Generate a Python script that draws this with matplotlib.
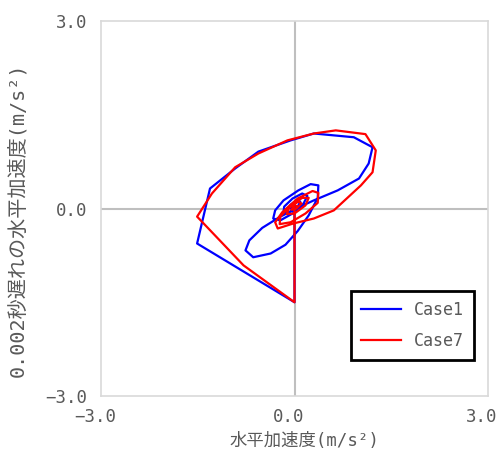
import matplotlib
matplotlib.use("Agg")
import matplotlib.pyplot as plt
import matplotlib.transforms as mtransforms

plt.rcParams['font.family'] = ['DejaVu Sans Mono', 'Noto Sans CJK JP']

# Case1 trajectory (acc, acc delayed 0.002 s)
case1_x = [0.00, 0.00, -1.51, -1.31, -0.92, -0.56, -0.06, 0.30, 0.92, 1.21, 1.15, 1.00,
           0.67, 0.30, 0.09, -0.22, -0.50, -0.70, -0.76, -0.64, -0.37, -0.14, 0.05, 0.22,
           0.36, 0.37, 0.25, 0.06, -0.17, -0.30, -0.33, -0.22, -0.03, 0.14, 0.20, 0.12,
           -0.03, -0.16, -0.17, -0.08, 0.05, 0.09, 0.03, -0.06, -0.06, 0.02, 0.00]
case1_y = [0.00, -1.50, -0.56, 0.32, 0.64, 0.91, 1.09, 1.20, 1.14, 0.98, 0.72, 0.48,
           0.29, 0.13, 0.03, -0.13, -0.31, -0.51, -0.67, -0.78, -0.72, -0.58, -0.36, -0.11,
           0.17, 0.37, 0.39, 0.29, 0.13, -0.03, -0.16, -0.19, -0.08, 0.08, 0.20, 0.24,
           0.16, 0.03, -0.06, -0.06, 0.03, 0.11, 0.13, 0.06, 0.00, 0.03, 0.00]

# Case7 trajectory
case7_x = [0.00, 0.00, -0.79, -1.51, -1.28, -0.92, -0.56, -0.11, 0.30, 0.64, 1.10, 1.26,
           1.21, 1.03, 0.61, 0.30, -0.02, -0.26, -0.30, -0.19, 0.05, 0.28, 0.37, 0.36,
           0.17, -0.06, -0.23, -0.22, -0.06, 0.12, 0.22, 0.17, 0.00, -0.12, -0.08, 0.06,
           0.11, 0.03, -0.05, 0.00, 0.03]
case7_y = [0.00, -1.50, -0.91, -0.13, 0.24, 0.66, 0.88, 1.09, 1.20, 1.25, 1.19, 0.93,
           0.58, 0.37, -0.03, -0.16, -0.24, -0.32, -0.22, -0.06, 0.16, 0.28, 0.25, 0.09,
           -0.08, -0.22, -0.25, -0.13, 0.05, 0.17, 0.17, 0.05, -0.08, -0.09, 0.02, 0.11,
           0.08, 0.00, -0.02, 0.05, 0.04]

ticks = [-3.0, 0.0, 3.0]
tick_labels = ["-3.0", "0.0", "3.0"]

fig = plt.figure(figsize=(4.99, 4.57), dpi=100)
ax = fig.add_axes([101 / 499, 1 - 396 / 457, 387 / 499, 375 / 457])

ax.axhline(0, color="#bfbfbf", lw=1.5, zorder=1)
ax.axvline(0, color="#bfbfbf", lw=1.5, zorder=1)

ax.plot(case1_x, case1_y, color="#0000ff", lw=1.6, label="Case1", zorder=2)
ax.plot(case7_x, case7_y, color="#ff0000", lw=1.6, label="Case7", zorder=3)

ax.set_xlim(-3, 3)
ax.set_ylim(-3, 3)
ax.set_xticks(ticks)
ax.set_yticks(ticks)
ax.set_xticklabels([t.replace("-", "\u2212") for t in tick_labels])
ax.set_yticklabels([t.replace("-", "\u2212") for t in tick_labels])
ax.tick_params(length=0, labelsize=12.5, colors="#595959")
ax.tick_params(axis="x", pad=9)
ax.tick_params(axis="y", pad=10)

# excel puts the x tick labels a few pixels to the left
shift = mtransforms.ScaledTranslation(-6 / 100, 0, fig.dpi_scale_trans)
for lab in ax.get_xticklabels():
    lab.set_transform(lab.get_transform() + shift)

for s in ax.spines.values():
    s.set_color("#d9d9d9")
    s.set_linewidth(1.2)

ax.set_xlabel("水平加速度(m/s²)", fontsize=12.5, color="#595959")
ax.xaxis.set_label_coords(0.525, -0.095)
ax.set_ylabel("0.002秒遅れの水平加速度(m/s²)", fontsize=14.5, color="#595959")
ax.yaxis.set_label_coords(-0.19, 0.47)

leg = ax.legend(loc="lower right", bbox_to_anchor=(0.985, 0.075), fontsize=12,
                fancybox=False, framealpha=1, edgecolor="black",
                handlelength=2.4, borderpad=0.6, labelspacing=0.75)
leg.get_frame().set_linewidth(2)
for t in leg.get_texts():
    t.set_color("#595959")

fig.savefig("out.png", dpi=100)
